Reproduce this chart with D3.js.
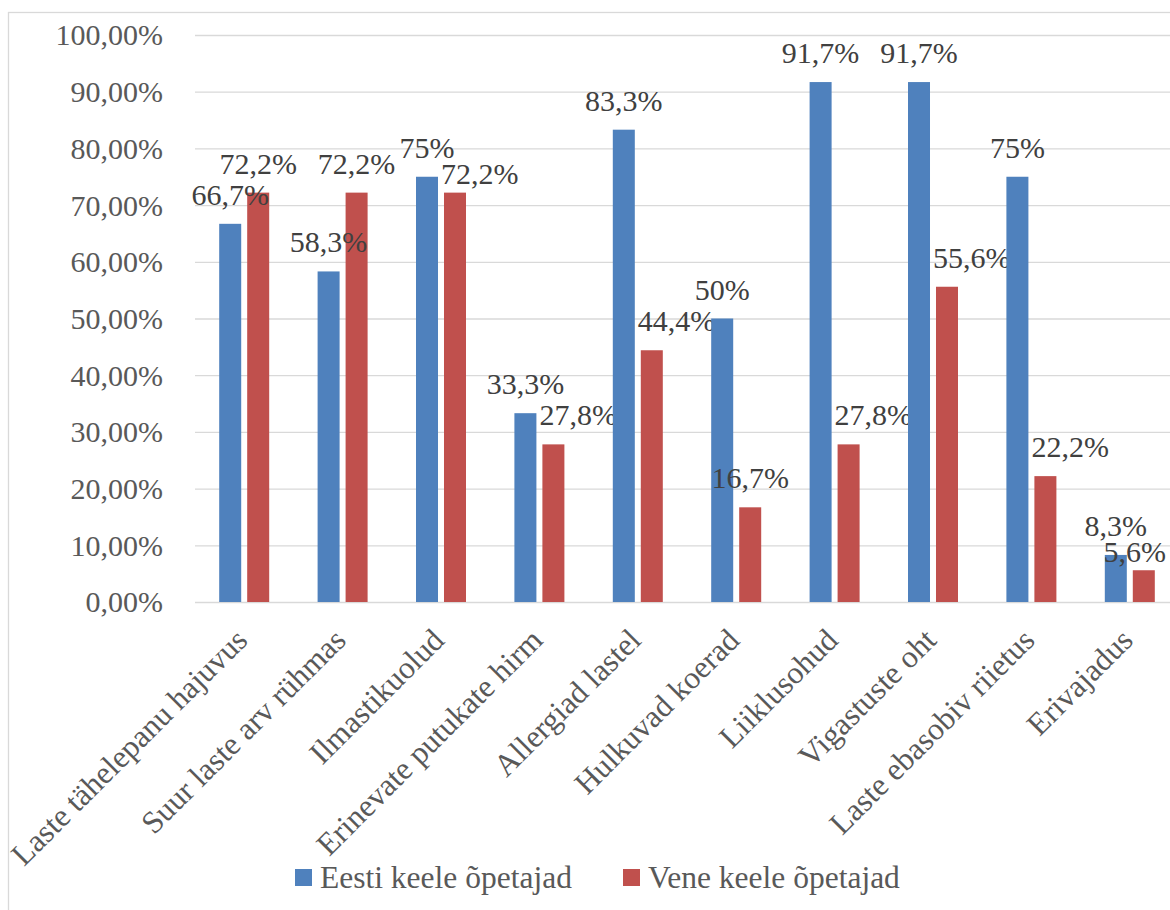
<!DOCTYPE html>
<meta charset="utf-8">
<style>
body { margin: 0; background: #fff; }
text { font-family: "Liberation Serif", "Times New Roman", serif; }
.grid line { stroke: #d9d9d9; stroke-width: 1.3px; }
.grid text { font-size: 30px; fill: #595959; }
.lbl { font-size: 30px; fill: #404040; }
.cat { font-size: 31.5px; fill: #595959; }
.legend text { font-size: 31.5px; fill: #595959; }
</style>
<svg width="1170" height="910"></svg>
<script src="https://d3js.org/d3.v7.min.js"></script>
<script>

var categories = ["Laste tähelepanu hajuvus", "Suur laste arv rühmas", "Ilmastikuolud",
  "Erinevate putukate hirm", "Allergiad lastel", "Hulkuvad koerad", "Liiklusohud",
  "Vigastuste oht", "Laste ebasobiv riietus", "Erivajadus"];
var series = ["Eesti keele õpetajad", "Vene keele õpetajad"];
var eesti = [66.7, 58.3, 75, 33.3, 83.3, 50, 91.7, 91.7, 75, 8.3];
var vene = [72.2, 72.2, 72.2, 27.8, 44.4, 16.7, 27.8, 55.6, 22.2, 5.6];
var yTicks = [0, 10, 20, 30, 40, 50, 60, 70, 80, 90, 100];
var colors = ["#4f81bd", "#c0504d"];

var svg = d3.select("svg");

// chart frame
svg.append("rect")
  .attr("x", 8.5).attr("y", 12.5)
  .attr("width", 1180).attr("height", 920)
  .attr("fill", "#fff").attr("stroke", "#d9d9d9").attr("stroke-width", 1.3);

var plotL = 195, plotR = 1179, plotT = 35, plotB = 602;

var x0 = d3.scaleBand().domain(categories).range([plotL, plotR]);
var x1 = d3.scaleBand().domain(series)
  .range([x0.bandwidth() / 2 - 25, x0.bandwidth() / 2 + 25])
  .paddingInner(0.214);
var y = d3.scaleLinear().domain([0, 100]).range([plotB, plotT]);

var loc = d3.formatLocale({ decimal: ",", thousands: " ", grouping: [3], currency: ["", ""] });
var tickFmt = function(d) { return loc.format(".2%")(d / 100); };
var lblFmt = function(d) { return d3.format("")(d).replace(".", ",") + "%"; };

// gridlines + y labels
var gy = svg.append("g").attr("class", "grid")
  .attr("transform", "translate(" + plotL + ",0)")
  .call(d3.axisLeft(y).tickValues(yTicks).tickFormat(tickFmt)
    .tickSize(-(plotR - plotL)).tickPadding(32));
gy.select(".domain").remove();
gy.selectAll("text").attr("dy", "0.33em");

var rows = categories.map(function(c, i) {
  return { cat: c, vals: [eesti[i], vene[i]] };
});

var grp = svg.selectAll(".cg").data(rows).enter().append("g")
  .attr("class", "cg")
  .attr("transform", function(d) { return "translate(" + x0(d.cat) + ",0)"; });

grp.selectAll("rect").data(function(d) {
    return d.vals.map(function(v, j) { return { s: series[j], v: v, j: j }; });
  })
  .enter().append("rect")
  .attr("x", function(d) { return x1(d.s); })
  .attr("width", x1.bandwidth())
  .attr("y", function(d) { return y(d.v); })
  .attr("height", function(d) { return y(0) - y(d.v); })
  .attr("fill", function(d) { return colors[d.j]; });

// data labels above bars, nudged so they do not collide
grp.each(function(d) {
  var g = d3.select(this);
  var gx = x0(d.cat);
  var mid = x0.bandwidth() / 2;
  var labels = d.vals.map(function(v, j) {
    return g.append("text").attr("class", "lbl")
      .attr("x", x1(series[j]) + x1.bandwidth() / 2)
      .attr("y", y(v) - 19)
      .attr("text-anchor", "middle")
      .text(lblFmt(v));
  });
  var b0 = y(d.vals[0]) - 19, b1 = y(d.vals[1]) - 19;
  if (b1 - b0 > -22 && b1 - b0 < 22) {
    // labels too close vertically: drop the second one
    labels[1].attr("y", b0 + 26);
    if (y(d.vals[0]) < b0 + 26) labels[1].attr("x", mid).attr("text-anchor", "start");
  } else if (y(d.vals[0]) < b1 && d.cat !== "Hulkuvad koerad") {
    // first bar runs through the second label: move it aside
    labels[1].attr("x", mid).attr("text-anchor", "start");
  }
  // keep labels inside the frame
  labels.forEach(function(t) {
    var bb = t.node().getBBox();
    var over = gx + bb.x + bb.width - 1166;
    if (over > 0) t.attr("x", +t.attr("x") - over);
  });
});

// category labels
svg.selectAll(".cat").data(categories).enter().append("text")
  .attr("class", "cat")
  .attr("text-anchor", "end")
  .attr("transform", function(d) {
    return "translate(" + (x0(d) + x0.bandwidth() / 2 + 5) + ",642) rotate(-45)";
  })
  .text(function(d) { return d; });

// legend
var lg = svg.append("g").attr("class", "legend");
var lx = [295, 623];
series.forEach(function(s, j) {
  lg.append("rect").attr("x", lx[j]).attr("y", 869)
    .attr("width", 17).attr("height", 17).attr("fill", colors[j]);
  lg.append("text").attr("x", lx[j] + 25).attr("y", 888).text(s);
});
</script>
